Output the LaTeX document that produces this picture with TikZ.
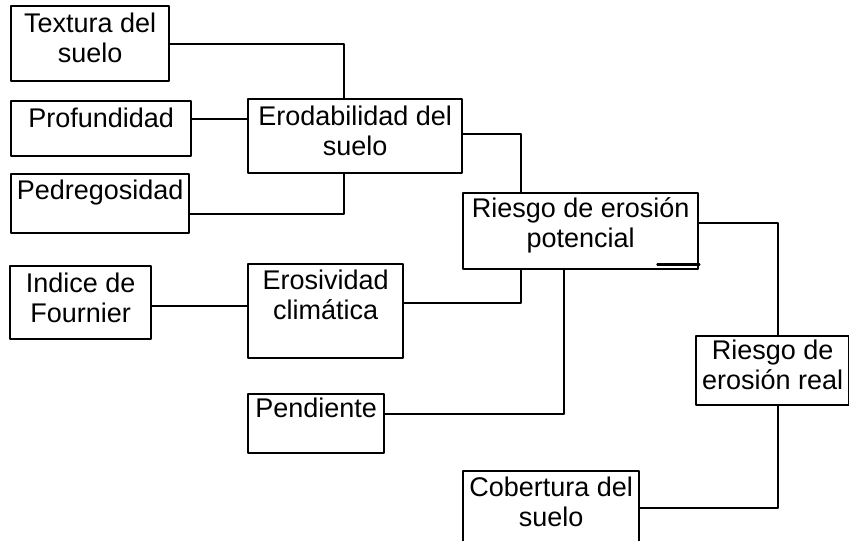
\documentclass[tikz,border=0pt]{standalone}
\usepackage{fontspec}
\setmainfont{Liberation Sans}
\usetikzlibrary{positioning}
\begin{document}
\begin{tikzpicture}[x=1pt, y=-1pt, line join=round, line cap=round,
        caja/.style={draw, line width=2.4pt, anchor=north west, inner sep=0pt},
        texto/.style={align=center, inner sep=0pt, font=\fontsize{27}{30}\selectfont},
        linea/.style={line width=2.2pt}]
        \useasboundingbox (0,0) rectangle (849,541);
        %cajas
        \node[caja, minimum width=158pt, minimum height=75pt] (tex) at (10,5) {};
        \node[caja, minimum width=180pt, minimum height=55pt] (pro) at (10,100) {};
        \node[caja, minimum width=214pt, minimum height=74pt] (ero) at (247,98) {};
        \node[caja, minimum width=178pt, minimum height=59pt] (ped) at (10,173) {};
        \node[caja, minimum width=235pt, minimum height=76pt] (riep) at (462,192) {};
        \node[caja, minimum width=141pt, minimum height=73pt] (ind) at (9,265) {};
        \node[caja, minimum width=155pt, minimum height=94pt] (ros) at (247,263) {};
        \node[caja, minimum width=136pt, minimum height=59pt] (pen) at (247,393) {};
        \node[caja, minimum width=153pt, minimum height=69pt] (rier) at (695,335) {};
        \node[caja, minimum width=176pt, minimum height=90pt] (cob) at (462,470) {};
        %textos
        \node[texto, below=8pt of tex.north] (text) {Textura del\\suelo};
        \node[texto, below=8pt of pro.north] (prot) {Profundidad};
        \node[texto, below=8pt of ero.north] (erot) {Erodabilidad del\\suelo};
        \node[texto, below=7pt of ped.north] (pedt) {Pedregosidad};
        \node[texto, below=5pt of riep.north] (riept) {Riesgo de erosión\\potencial};
        \node[texto, below=8pt of ind.north] (indt) {Indice de\\Fournier};
        \node[texto, below=7pt of ros.north] (rost) {Erosividad\\climática};
        \node[texto, below=5pt of pen.north] (pent) {Pendiente};
        \node[texto, below=5pt of rier.north] (riert) {Riesgo de\\erosión real};
        \node[texto, below=7pt of cob.north] (cobt) {Cobertura del\\suelo};
        %lineas
        \draw[linea] (tex.east) -| ([xshift=-11pt]ero.north);
        \draw[linea] ([yshift=10pt]pro.east) -- ([yshift=10pt]pro.east -| ero.west);
        \draw[linea] ([yshift=-10pt]ped.east) -| ([xshift=-11pt]ero.south);
        \draw[linea] ([yshift=2pt]ero.east) -| ([xshift=-60pt]riep.north);
        \draw[linea] ([yshift=-3pt]ind.east) -- ([yshift=-3pt]ind.east -| ros.west);
        \draw[linea] ([yshift=8pt]ros.east) -| ([xshift=-60pt]riep.south);
        \draw[linea] ([yshift=10pt]pen.east) -| ([xshift=-17pt]riep.south);
        \draw[linea] ([yshift=8pt]riep.east) -| ([xshift=5pt]rier.north);
        \draw[linea] ([yshift=8pt]cob.east) -| ([xshift=5pt]rier.south);
        \draw[linea] ([xshift=-42pt,yshift=6pt]riep.south east) -- ([yshift=6pt]riep.south east);
    \end{tikzpicture}
\end{document}
